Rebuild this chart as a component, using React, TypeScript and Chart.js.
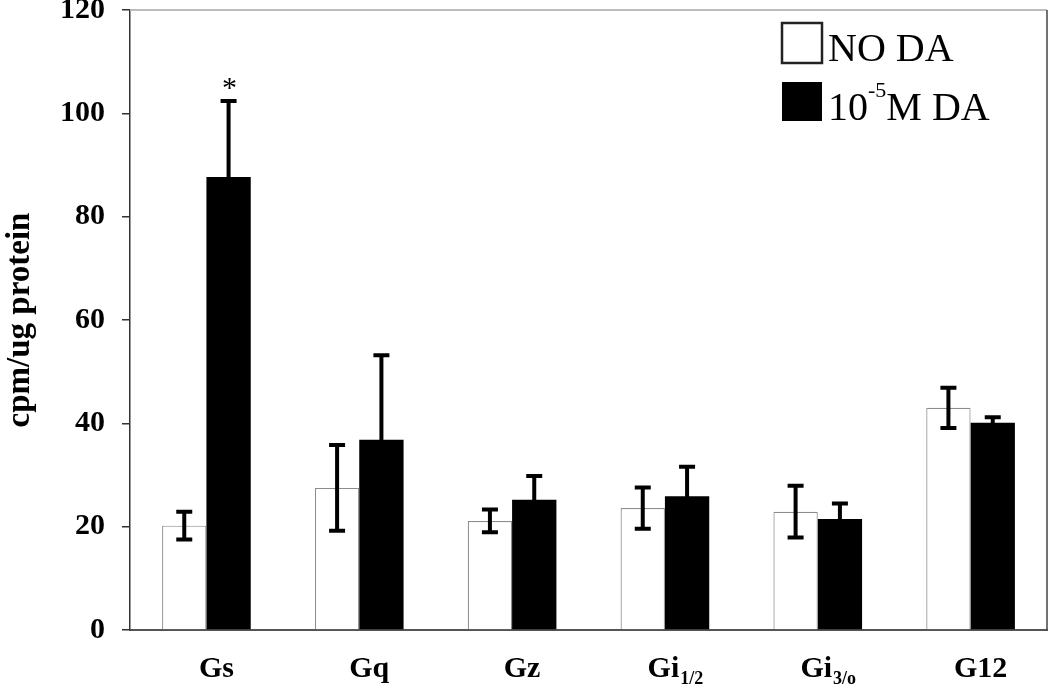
import React, { useEffect, useRef } from "react";
import { Chart, registerables } from "chart.js";

Chart.register(...registerables);

const categories = ["Gs", "Gq", "Gz", "Gi", "Gi", "G12"];
const subscripts = ["", "", "", "1/2", "3/o", ""];
const noDA = [20.2, 27.5, 21.1, 23.6, 22.9, 43.0];
const noDAErr = [2.7, 8.3, 2.2, 4.0, 5.0, 3.9];
const da = [87.7, 36.8, 25.2, 25.9, 21.5, 40.1];
const daErr = [14.7, 16.4, 4.6, 5.7, 3.0, 1.1];
const yTicks = [0, 20, 40, 60, 80, 100, 120];
const significant = [true, false, false, false, false, false];
const legendLabels = ["NO DA", "10", "-5", "M DA"];

const SERIF = "'Liberation Serif', 'Times New Roman', serif";
const errors = [noDAErr, daErr];

const decorPlugin = {
  id: "decor",
  afterDatasetsDraw(chart: any) {
    const ctx = chart.ctx;
    const y = chart.scales.y;
    const x = chart.scales.x;
    const area = chart.chartArea;
    ctx.save();
    // frame top & right
    ctx.strokeStyle = "#bdbdbd";
    ctx.lineWidth = 2;
    ctx.beginPath();
    ctx.moveTo(area.left, area.top);
    ctx.lineTo(area.right, area.top);
    ctx.stroke();
    ctx.strokeStyle = "#444";
    ctx.lineWidth = 1.5;
    ctx.beginPath();
    ctx.moveTo(area.right, area.top);
    ctx.lineTo(area.right, area.bottom);
    ctx.stroke();

    // error bars
    ctx.strokeStyle = "#000";
    chart.data.datasets.forEach((ds: any, i: number) => {
      const meta = chart.getDatasetMeta(i);
      meta.data.forEach((el: any, j: number) => {
        const v = ds.data[j];
        const e = errors[i][j];
        const cx = el.x;
        const t = y.getPixelForValue(v + e);
        const b = y.getPixelForValue(v - e);
        ctx.lineWidth = 4;
        ctx.beginPath();
        ctx.moveTo(cx, t);
        ctx.lineTo(cx, b);
        ctx.stroke();
        ctx.beginPath();
        ctx.moveTo(cx - 8, t);
        ctx.lineTo(cx + 8, t);
        ctx.moveTo(cx - 8, b);
        ctx.lineTo(cx + 8, b);
        ctx.stroke();
        if (i === 1 && significant[j]) {
          ctx.fillStyle = "#000";
          ctx.font = `30px ${SERIF}`;
          ctx.textAlign = "center";
          ctx.textBaseline = "alphabetic";
          ctx.fillText("*", cx + 1, t - 4);
        }
      });
    });

    // x labels with subscripts
    ctx.fillStyle = "#000";
    ctx.textBaseline = "alphabetic";
    categories.forEach((c, j) => {
      const px = x.getPixelForValue(j);
      ctx.font = `bold 30px ${SERIF}`;
      const w1 = ctx.measureText(c).width;
      ctx.font = `bold 18px ${SERIF}`;
      const w2 = subscripts[j] ? ctx.measureText(subscripts[j]).width : 0;
      const start = px + 10 - (w1 + w2) / 2;
      ctx.textAlign = "left";
      ctx.font = `bold 30px ${SERIF}`;
      ctx.fillText(c, start, 677);
      if (subscripts[j]) {
        ctx.font = `bold 18px ${SERIF}`;
        ctx.fillText(subscripts[j], start + w1 + 1, 684);
      }
    });

    // legend
    const lx = 782;
    ctx.fillStyle = "#fff";
    ctx.fillRect(lx, 23, 40, 40);
    ctx.strokeStyle = "#222";
    ctx.lineWidth = 2.5;
    ctx.strokeRect(lx, 23, 40, 40);
    ctx.fillStyle = "#000";
    ctx.fillRect(lx, 82, 40, 39);
    ctx.textAlign = "left";
    ctx.font = `40px ${SERIF}`;
    ctx.fillText(legendLabels[0], 828, 61);
    ctx.fillText(legendLabels[1], 828, 120);
    const w10 = ctx.measureText(legendLabels[1]).width;
    ctx.font = `22px ${SERIF}`;
    ctx.fillText(legendLabels[2], 828 + w10, 97);
    const wsup = ctx.measureText(legendLabels[2]).width;
    ctx.font = `40px ${SERIF}`;
    ctx.fillText(legendLabels[3], 828 + w10 + wsup, 120);
    ctx.restore();
  },
};

export default function App() {
  const ref = useRef<HTMLCanvasElement>(null);
  useEffect(() => {
    if (!ref.current) return;
    const chart = new Chart(ref.current, {
      type: "bar",
      data: {
        labels: categories.map((c, i) => c + subscripts[i]),
        datasets: [
          {
            label: legendLabels[0],
            data: noDA,
            backgroundColor: "#ffffff",
            borderColor: "#8c8c8c",
            borderWidth: 1.2,
            barPercentage: 1,
            categoryPercentage: 0.58,
          },
          {
            label: legendLabels[1] + legendLabels[2] + legendLabels[3],
            data: da,
            backgroundColor: "#000000",
            borderColor: "#000000",
            borderWidth: 0,
            barPercentage: 1,
            categoryPercentage: 0.58,
          },
        ],
      },
      options: {
        animation: false,
        responsive: true,
        maintainAspectRatio: false,
        layout: { padding: { top: 10, right: 3, left: 0, bottom: 0 } },
        plugins: { legend: { display: false }, tooltip: { enabled: false } },
        scales: {
          x: {
            grid: { display: false },
            border: { color: "#555", width: 2 },
            ticks: { display: false },
            afterFit: (s: any) => {
              s.height = 56;
              s.paddingLeft = 0;
              s.paddingRight = 0;
            },
          },
          y: {
            min: 0,
            max: 120,
            afterBuildTicks: (s: any) => {
              s.ticks = yTicks.map((v) => ({ value: v }));
            },
            grid: { drawOnChartArea: false, tickLength: 8, color: "#333", lineWidth: 1.5 },
            border: { color: "#333", width: 1.5 },
            ticks: {
              color: "#000",
              padding: 17,
              font: { family: SERIF, size: 30, weight: "bold" },
            },
            title: {
              display: true,
              text: "cpm/ug protein",
              color: "#000",
              font: { family: SERIF, size: 33, weight: "bold" },
              padding: { top: 1, bottom: 0 },
            },
            afterFit: (s: any) => {
              s.width = 130;
              s.paddingTop = 0;
              s.paddingBottom = 0;
            },
          },
        },
      },
      plugins: [decorPlugin],
    });
    return () => chart.destroy();
  }, []);
  return (
    <div style={{ position: "absolute", left: 0, top: 0, width: 1050, height: 686, background: "#fff" }}>
      <canvas ref={ref} />
    </div>
  );
}
